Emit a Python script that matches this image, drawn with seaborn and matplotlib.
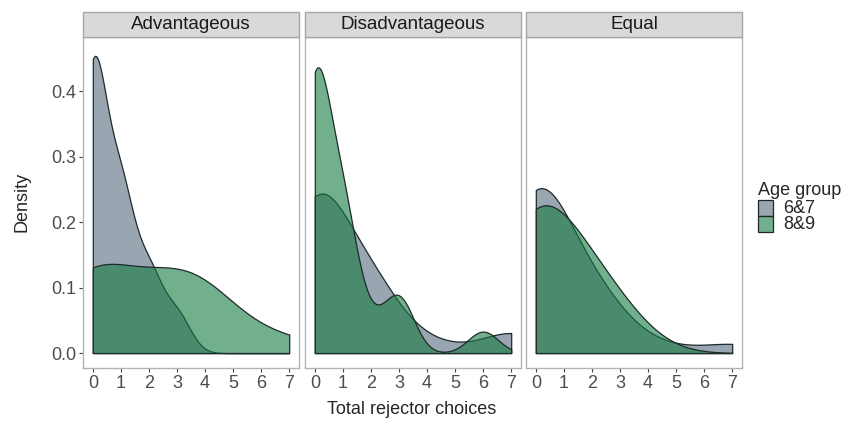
import numpy as np
import pandas as pd
import seaborn as sns
import matplotlib.pyplot as plt
from matplotlib.patches import Rectangle

# data: number of children with each total of rejector choices (0..7)
conditions = ['Advantageous', 'Disadvantageous', 'Equal']
age_groups = ['6&7', '8&9']
choices = np.arange(8)
counts_adv_67 = [15, 8, 4, 2, 0, 0, 0, 0]
counts_adv_89 = [13, 0, 0, 8, 5, 0, 0, 2]
counts_dis_67 = [14, 1, 6, 0, 1, 0, 0, 2]
counts_dis_89 = [24, 12, 2, 5, 0, 0, 2, 0]
counts_eq_67 = [17, 0, 6, 0, 1, 0, 0, 1]
counts_eq_89 = [8, 0, 3, 1, 0, 0, 0, 0]
# kernel bandwidths (6&7, 8&9) per condition
bandwidths = {'Advantageous': [0.49, 1.58],
              'Disadvantageous': [1.10, 0.54],
              'Equal': [1.18, 1.38]}

counts = {('Advantageous', '6&7'): counts_adv_67, ('Advantageous', '8&9'): counts_adv_89,
          ('Disadvantageous', '6&7'): counts_dis_67, ('Disadvantageous', '8&9'): counts_dis_89,
          ('Equal', '6&7'): counts_eq_67, ('Equal', '8&9'): counts_eq_89}
rows = []
for (cond, age), c in counts.items():
    for v in np.repeat(choices, c):
        rows.append((cond, age, v))
df = pd.DataFrame(rows, columns=['condition', 'age', 'choices'])

sns.set_style('white')
plt.rcParams['font.family'] = ['Liberation Sans', 'DejaVu Sans']
colors = {'6&7': '#57697f', '8&9': '#157b40'}
alpha = 0.6
edge = '#1e2a2a'

fig = plt.figure(figsize=(8.46, 4.29), dpi=100)
W, H = 846, 429
lefts = [83, 305, 526]
pw = 216
top, bottom = 37, 368

for i, cond in enumerate(conditions):
    ax = fig.add_axes([lefts[i] / W, 1 - bottom / H, pw / W, (bottom - top) / H])
    for j, age in enumerate(age_groups):
        vals = df[(df.condition == cond) & (df.age == age)]['choices'].astype(float)
        h = bandwidths[cond][j]
        sns.kdeplot(x=vals, ax=ax, fill=True, color=colors[age], alpha=alpha,
                    edgecolor=edge, linewidth=0.9, clip=(0, 7), cut=20,
                    gridsize=500, bw_method=h / vals.std(ddof=1))
    ax.set_xlim(-0.35, 7.35)
    ax.set_ylim(-0.0228, 0.483)
    ax.set_xticks(range(8))
    ax.set_yticks([0, 0.1, 0.2, 0.3, 0.4])
    ax.set_xlabel('')
    ax.set_ylabel('')
    ax.tick_params(axis='both', length=3, width=0.8, color='#444444',
                   labelsize=13, labelcolor='#4d4d4d', pad=2)
    if i == 0:
        ax.set_yticklabels(['0.0', '0.1', '0.2', '0.3', '0.4'])
        ax.tick_params(axis='y', left=True)
    else:
        ax.tick_params(axis='y', left=False, labelleft=False)
    ax.tick_params(axis='x', bottom=True)
    for s in ax.spines.values():
        s.set_color('#b3b3b3')
        s.set_linewidth(1)
    # facet strip
    strip = Rectangle((lefts[i] / W, 1 - top / H), pw / W, 25 / H, transform=fig.transFigure,
                      facecolor='#d9d9d9', edgecolor='#a6a6a6', linewidth=1)
    fig.patches.append(strip)
    fig.text((lefts[i] + pw / 2) / W, 1 - 24.5 / H, cond, ha='center', va='center',
             fontsize=13.5, color='#1a1a1a')

fig.text(22 / W, 1 - 202 / H, 'Density', rotation=90, ha='center', va='center', fontsize=13)
fig.text(412 / W, 1 - 409 / H, 'Total rejector choices', ha='center', va='center', fontsize=13)

# legend
fig.text(758 / W, 1 - 195 / H, 'Age group', ha='left', va='baseline', fontsize=13)
for k, age in enumerate(age_groups):
    y0 = 200 + 16 * k
    fig.patches.append(Rectangle((758 / W, 1 - (y0 + 16) / H), 15 / W, 16 / H,
                                 transform=fig.transFigure, facecolor=colors[age],
                                 alpha=alpha, edgecolor='none'))
    fig.patches.append(Rectangle((758 / W, 1 - (y0 + 16) / H), 15 / W, 16 / H,
                                 transform=fig.transFigure, facecolor='none',
                                 edgecolor=edge, linewidth=0.9))
    fig.text(783 / W, 1 - (y0 + 13) / H, age, ha='left', va='baseline', fontsize=13)

fig.savefig('out.png', dpi=100)
